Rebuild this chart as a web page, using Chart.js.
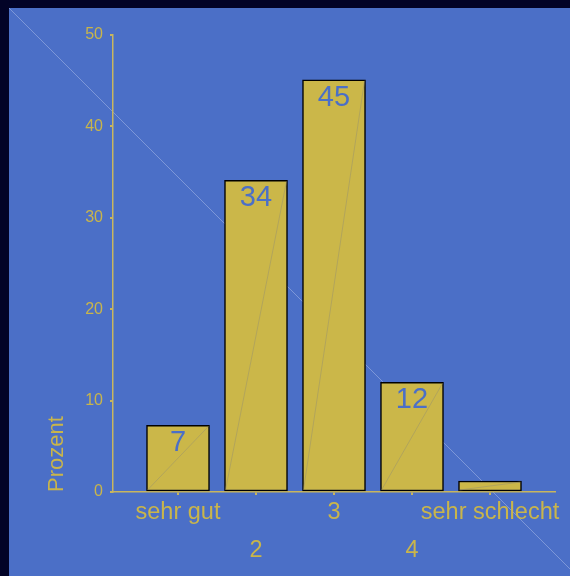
<!DOCTYPE html>
<html>
<head>
<meta charset="utf-8">
<script src="https://cdn.jsdelivr.net/npm/chart.js@4"></script>
<style>
    html, body { margin: 0; padding: 0; background: #020327; }
    #wrap { position: absolute; left: 9px; top: 8px; width: 561px; height: 568px; }
</style>
</head>
<body>
<div id="wrap"><canvas id="chart" width="561" height="568"></canvas></div>
<script>
const categories = ["sehr gut", "2", "3", "4", "sehr schlecht"];
const values = [7.3, 34.1, 45.1, 12.0, 1.2];
const valueLabels = ["7", "34", "45", "12", ""];
const yTicks = [0, 10, 20, 30, 40, 50];

const bgColor = "#4b6fc7";
const gold = "#c9b54b";
const axisGold = "#c8b65e";
const fontFamily = "'Liberation Sans', Arial, sans-serif";

const decorPlugin = {
    id: "decor",
    beforeDraw(chart) {
        const ctx = chart.ctx;
        ctx.save();
        ctx.fillStyle = bgColor;
        ctx.fillRect(0, 0, chart.width, chart.height);
        // faint diagonal across the panel
        ctx.strokeStyle = "rgba(190, 205, 240, 0.55)";
        ctx.lineWidth = 0.8;
        ctx.beginPath();
        ctx.moveTo(0, 0);
        ctx.lineTo(chart.width, chart.width);
        ctx.stroke();
        ctx.restore();
    },
    afterDatasetsDraw(chart) {
        const ctx = chart.ctx;
        const meta = chart.getDatasetMeta(0);
        ctx.save();
        meta.data.forEach((bar, i) => {
            const half = bar.width / 2;
            ctx.strokeStyle = "rgba(150, 145, 110, 0.7)";
            ctx.lineWidth = 0.7;
            ctx.beginPath();
            ctx.moveTo(bar.x - half + 1, bar.base - 1);
            ctx.lineTo(bar.x + half - 1, bar.y + 1);
            ctx.stroke();

            if (valueLabels[i]) {
                ctx.fillStyle = bgColor;
                ctx.font = `29px ${fontFamily}`;
                ctx.textAlign = "center";
                ctx.textBaseline = "alphabetic";
                ctx.fillText(valueLabels[i], bar.x, bar.y + 26);
            }
        });
        ctx.restore();
    },
};

new Chart(document.getElementById("chart"), {
    type: "bar",
    data: {
        datasets: [{
            data: values.map((v, i) => ({ x: i + 1, y: v })),
            backgroundColor: "#cbb749",
            borderColor: "#000000",
            borderWidth: 1.5,
            borderSkipped: false,
            barThickness: 63,
        }],
    },
    options: {
        responsive: false,
        animation: false,
        events: [],
        layout: { padding: { top: 27, right: 15, bottom: 0, left: 0 } },
        plugins: { legend: { display: false }, tooltip: { enabled: false } },
        scales: {
            x: {
                type: "linear",
                offset: false,
                min: 1 - 65 / 78,
                max: categories.length + 65 / 78,
                afterBuildTicks: (scale) => {
                    scale.ticks = categories.map((_, i) => ({ value: i + 1 }));
                },
                afterFit: (scale) => { scale.height = 84; },
                grid: { display: true, offset: false, drawOnChartArea: false, drawTicks: true, tickLength: 3, color: axisGold, lineWidth: 2 },
                border: { display: true, color: axisGold, width: 1.5 },
                ticks: {
                    autoSkip: false,
                    maxRotation: 0,
                    padding: -1,
                    color: gold,
                    font: { family: fontFamily, size: 23.5, lineHeight: "38px" },
                    callback: (value) => {
                        const i = Math.round(value) - 1;
                        return i % 2 === 0 ? [categories[i]] : ["", categories[i]];
                    },
                },
            },
            y: {
                min: 0,
                max: 50,
                afterBuildTicks: (scale) => {
                    scale.ticks = yTicks.map(v => ({ value: v }));
                },
                afterFit: (scale) => { scale.width = 104; },
                grid: { display: true, drawOnChartArea: false, drawTicks: true, tickLength: 3, color: axisGold, lineWidth: 2 },
                border: { display: true, color: axisGold, width: 1.5 },
                ticks: {
                    padding: 7,
                    color: gold,
                    font: { family: fontFamily, size: 16 },
                },
                title: {
                    display: true,
                    text: "Prozent",
                    align: "start",
                    color: gold,
                    font: { family: fontFamily, size: 22 },
                    padding: { top: 35, bottom: 0 },
                },
            },
        },
    },
    plugins: [decorPlugin],
});
</script>
</body>
</html>
